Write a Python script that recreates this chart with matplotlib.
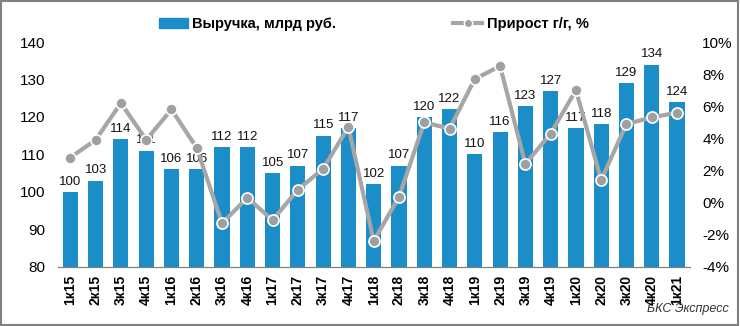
import matplotlib.pyplot as plt
from matplotlib.patches import Rectangle
from matplotlib.lines import Line2D
from matplotlib.ticker import FuncFormatter

plt.rcParams['font.family'] = ['Liberation Sans', 'DejaVu Sans']

quarters = ["1к15", "2к15", "3к15", "4к15", "1к16", "2к16", "3к16", "4к16",
            "1к17", "2к17", "3к17", "4к17", "1к18", "2к18", "3к18", "4к18",
            "1к19", "2к19", "3к19", "4к19", "1к20", "2к20", "3к20", "4к20", "1к21"]
revenue = [100, 103, 114, 111, 106, 106, 112, 112, 105, 107, 115, 117, 102,
           107, 120, 122, 110, 116, 123, 127, 117, 118, 129, 134, 124]
growth = [2.8, 3.9, 6.2, 3.9, 5.8, 3.4, -1.3, 0.3, -1.1, 0.8, 2.1, 4.7, -2.4,
          0.35, 5.0, 4.6, 7.7, 8.5, 2.4, 4.3, 7.0, 1.4, 4.9, 5.3, 5.6]

bar_color = "#1b8ec9"
line_color = "#a6a6a6"

fig = plt.figure(figsize=(7.4, 3.26), dpi=100)
ax1 = fig.add_axes([0.078, 0.182, 0.854, 0.689])
ax2 = ax1.twinx()

x = range(len(quarters))
ax1.bar(x, revenue, width=0.6, color=bar_color, zorder=2)
for i, v in enumerate(revenue):
    ax1.annotate(str(v), (i, v), xytext=(0, 3), textcoords="offset points",
                 ha="center", va="bottom", fontsize=9.5, color="#111111")

ax2.plot(x, growth, color=line_color, lw=3, marker="o", markersize=8,
         markerfacecolor="#a0a0a0", markeredgecolor="white", markeredgewidth=1.2)

ax1.set_xlim(-0.5, len(quarters) - 0.5)
ax1.set_ylim(80, 140)
ax1.set_yticks(range(80, 141, 10))
ax2.set_ylim(-4, 10)
ax2.set_yticks(range(-4, 11, 2))
ax2.yaxis.set_major_formatter(FuncFormatter(lambda v, p: f"{v:.0f}%"))

ax1.set_xticks(list(x))
ax1.set_xticklabels(quarters, rotation=90, fontweight="bold", fontsize=10)

for ax in (ax1, ax2):
    for s in ("top", "left", "right"):
        ax.spines[s].set_visible(False)
    ax.spines["bottom"].set_color("#808080")
    ax.tick_params(axis="y", length=0, labelsize=11, pad=9)
ax1.tick_params(axis="x", length=0, pad=6)

handles = [Rectangle((0, 0), 1, 1, color=bar_color),
           Line2D([0], [0], color=line_color, lw=3, marker="o", markersize=6,
                  markerfacecolor="#a0a0a0", markeredgecolor="white")]
fig.legend(handles, ["Выручка, млрд руб.", "Прирост г/г, %"], loc="center",
           bbox_to_anchor=(0.505, 0.927), ncol=2, frameon=False, columnspacing=8,
           handlelength=2, handletextpad=0.3, prop={"weight": "bold", "size": 10.5})

fig.text(0.985, 0.035, "БКС Экспресс", ha="right", va="bottom", style="italic",
         fontsize=9, color="#333333")
fig.patches.append(Rectangle((0.002, 0.003), 0.995, 0.993, transform=fig.transFigure,
                             fill=False, edgecolor="#808080", lw=1.5))

plt.savefig("out.png", dpi=100)
